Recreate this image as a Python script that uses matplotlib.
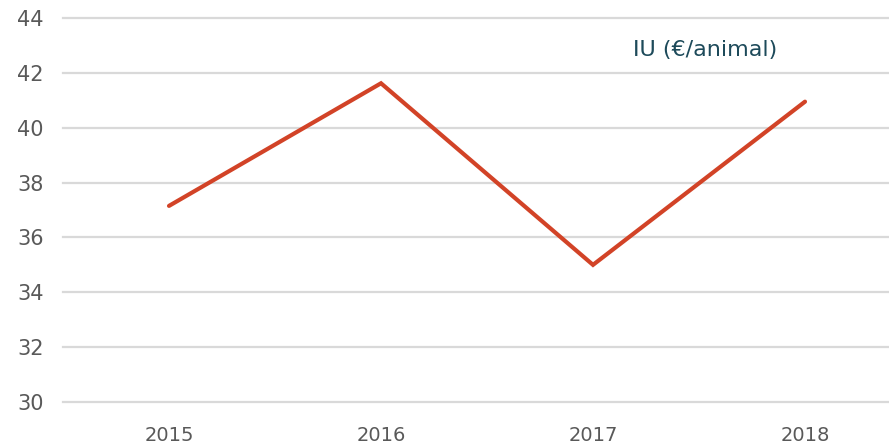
import matplotlib
matplotlib.use("Agg")
import matplotlib.pyplot as plt

# ── 데이터 ──────────────────────────────────────────
YEARS = ["2015", "2016", "2017", "2018"]
IU = [37.15, 41.62, 35.0, 40.95]
Y_TICKS = [30, 32, 34, 36, 38, 40, 42, 44]
LABEL = "IU (€/animal)"

RED, GRID, TICK, TEAL = "#d24327", "#d9d9d9", "#595959", "#1d4a5a"

fig = plt.figure(figsize=(8.89, 4.45), dpi=100)
ax = fig.add_axes([63 / 889, 43 / 445, 848 / 889, 384 / 445])

x = range(len(YEARS))
ax.plot(x, IU, color=RED, lw=3, solid_capstyle="round", solid_joinstyle="miter",
        zorder=3)

ax.set_xlim(-0.5, len(YEARS) - 0.5)
ax.set_ylim(30, 44)
ax.set_yticks(Y_TICKS)
ax.set_xticks(list(x), YEARS)
ax.grid(axis="y", color=GRID, lw=1.6)
for gl in ax.get_ygridlines():
    gl.set_clip_on(False)
ax.set_axisbelow(True)
for s in ax.spines.values():
    s.set_visible(False)
ax.tick_params(axis="both", length=0, colors=TICK)
ax.tick_params(axis="y", labelsize=15, pad=14)
ax.tick_params(axis="x", labelsize=14, pad=17)

ax.text(2.53, 42.83, LABEL, ha="center", va="center", fontsize=16, color=TEAL)

fig.savefig("out.png", dpi=100)
